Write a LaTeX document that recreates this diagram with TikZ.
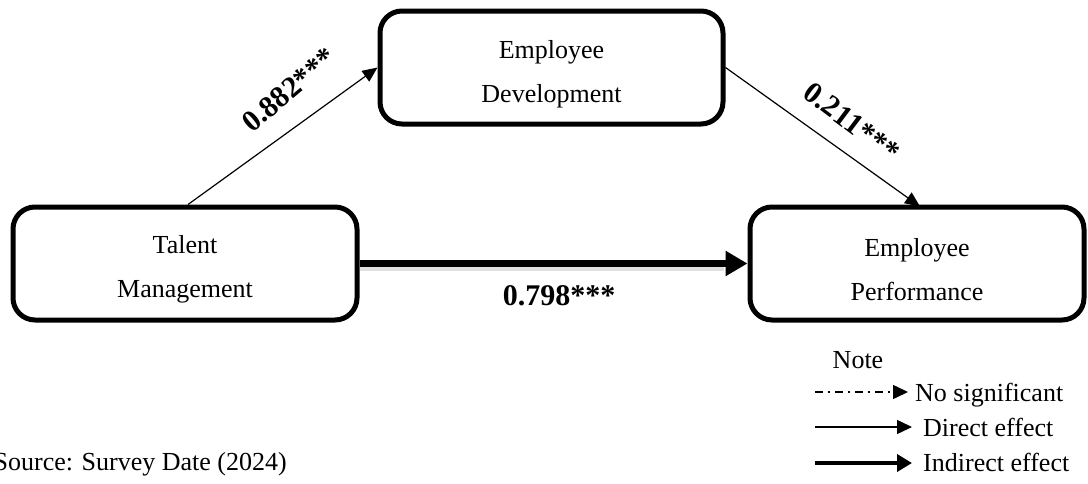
\documentclass[tikz,border=0pt]{standalone}
\usepackage{fontspec}
\setmainfont{Liberation Serif}
\usetikzlibrary{arrows.meta}
\begin{document}
\begin{tikzpicture}[x=1pt,y=-1pt,
  box/.style={draw,line width=5pt,rounded corners=22pt,inner sep=0pt,minimum height=113pt},
  boxtext/.style={align=center,font=\fontsize{26}{44}\selectfont,inner sep=0pt},
  thinarrow/.style={line width=1.2pt,-{Triangle[length=15pt,width=13pt]}},
  thickarrow/.style={line width=6.5pt,-{Triangle[length=22pt,width=24pt]}},
  coef/.style={font=\fontsize{30}{32}\selectfont\bfseries,inner sep=0pt},
  legtext/.style={font=\fontsize{26}{28}\selectfont,anchor=base west,inner sep=0pt},
  legthin/.style={line width=1.5pt,-{Triangle[length=15pt,width=14pt]}},
  legthick/.style={line width=4.5pt,-{Triangle[length=15pt,width=17pt]}}]
\useasboundingbox (0,0) rectangle (1088,483);

\node[box,minimum width=344pt] (TM) at (185,263.5) {};
\node[box,minimum width=343pt] (ED) at (551.5,67.5) {};
\node[box,minimum width=334pt] (EP) at (917,263.5) {};
\node[boxtext] (TMt) at ([yshift=-6pt]TM.center) {Talent\\Management};
\node[boxtext] (EDt) at ([yshift=-7pt]ED.center) {Employee\\Development};
\node[boxtext] (EPt) at ([yshift=-6pt]EP.center) {Employee\\Performance};

% shadow of the thick arrow
\draw[line width=6pt,black!12,shorten >=2pt] ([yshift=-4pt]TM.east) -- ([yshift=-4pt,xshift=-22pt]EP.west);
\draw[thickarrow] (TM.east) -- (EP.west);
\draw[thinarrow] ([xshift=3pt]TM.north) -- (ED.west);
\draw[thinarrow] (ED.east) -- ([xshift=3pt,yshift=-2pt]EP.north);

\node[coef,rotate=40] (c1) at (289,90) {0.882***};
\node[coef,rotate=-37] (c2) at (852,122) {0.211***};
\node[coef,anchor=base] (c3) at (559,305) {0.798***};

% legend
\node[font=\fontsize{26}{28}\selectfont,anchor=base,inner sep=0pt] (note) at (858,368) {Note};
\coordinate (l1s) at (815,392); \coordinate (l1e) at (908,392);
\coordinate (l2s) at (815,427); \coordinate (l2e) at (912,427);
\coordinate (l3s) at (815,463); \coordinate (l3e) at (912,463);
\draw[legthin,dash pattern=on 8pt off 5pt on 2pt off 5pt] (l1s) -- (l1e);
\draw[legthin] (l2s) -- (l2e);
\draw[legthick] (l3s) -- (l3e);
\node[legtext] (t1) at (915,401) {No significant};
\node[legtext] (t2) at (923,436) {Direct effect};
\node[legtext] (t3) at (923,471) {Indirect effect};

\node[font=\fontsize{26}{28}\selectfont,anchor=base east,inner sep=0pt] (src) at (287,470) {Source: Survey Date (2024)};
\end{tikzpicture}
\end{document}
